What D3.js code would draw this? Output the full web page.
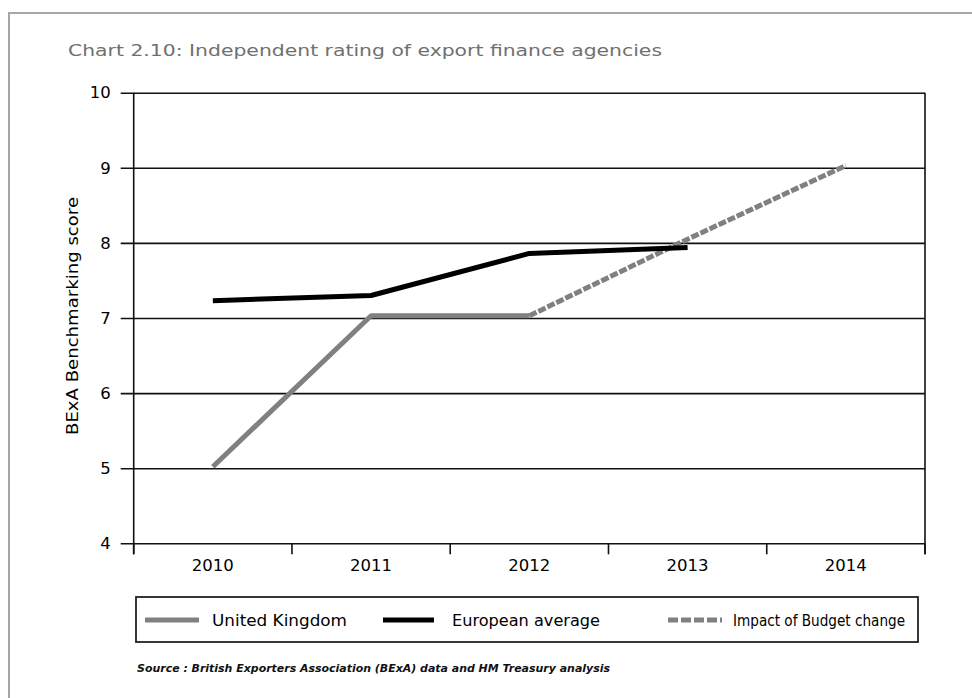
<!DOCTYPE html>
<html>
<head>
<meta charset="utf-8">
<script src="https://cdn.jsdelivr.net/npm/d3@7"></script>
<style>
  html, body { margin: 0; padding: 0; background: #fff; }
  svg { display: block; font-family: "DejaVu Sans", Verdana, sans-serif; }
</style>
</head>
<body>
<svg id="chart" width="972" height="698"></svg>
<script>
// Chart data
const years = ["2010", "2011", "2012", "2013", "2014"];
const unitedKingdom = [5.02, 7.03, 7.03, null, null];
const europeanAverage = [7.23, 7.3, 7.86, 7.94, null];
const budgetImpact = [null, null, 7.03, 8.05, 9.03];
const yTicks = [4, 5, 6, 7, 8, 9, 10];

const titleText = "Chart 2.10: Independent rating of export finance agencies";
const yTitle = "BExA Benchmarking score";
const sourceText = "Source : British Exporters Association (BExA) data and HM Treasury analysis";

const svg = d3.select("#chart");

// Outer frame (open to the right and bottom)
svg.append("path")
  .attr("d", "M9,698 V13 H972")
  .attr("fill", "none")
  .attr("stroke", "#a6a6a6")
  .attr("stroke-width", 2);

svg.append("text")
  .attr("x", 68).attr("y", 56)
  .attr("font-size", 15.5)
  .attr("fill", "#707070")
  .attr("textLength", 594)
  .attr("lengthAdjust", "spacingAndGlyphs")
  .text(titleText);

const plot = { left: 133.7, right: 925, top: 92.7, bottom: 543.3 };

const x = d3.scaleBand().domain(years).range([plot.left, plot.right]).padding(0);
const y = d3.scaleLinear().domain([4, 10]).range([plot.bottom, plot.top]);
const cx = d => x(d) + x.bandwidth() / 2;

// Horizontal gridlines with outward ticks
const yAxis = d3.axisLeft(y)
  .tickValues(yTicks)
  .tickSize(-(plot.right - plot.left))
  .tickSizeOuter(0)
  .tickPadding(10)
  .tickFormat(d3.format("d"));

const gy = svg.append("g")
  .attr("transform", `translate(${plot.left},0)`)
  .call(yAxis);
gy.select(".domain").remove();
gy.selectAll(".tick line")
  .attr("x1", -13)
  .attr("stroke", "#111")
  .attr("stroke-width", 1.6);
gy.selectAll(".tick text")
  .attr("x", -23)
  .attr("font-size", 16.5)
  .attr("fill", "#000")
  .style("font-family", "DejaVu Sans, sans-serif");

// Left and right plot borders
svg.append("line")
  .attr("x1", plot.left).attr("x2", plot.left)
  .attr("y1", plot.top).attr("y2", plot.bottom + 11)
  .attr("stroke", "#111").attr("stroke-width", 1.6);
svg.append("line")
  .attr("x1", plot.right).attr("x2", plot.right)
  .attr("y1", plot.top).attr("y2", plot.bottom + 11)
  .attr("stroke", "#111").attr("stroke-width", 1.6);

// Category axis with ticks at band edges
const xAxis = d3.axisBottom(x).tickSize(0).tickPadding(16);
const gx = svg.append("g")
  .attr("transform", `translate(0,${plot.bottom})`)
  .call(xAxis);
gx.select(".domain").remove();
gx.selectAll(".tick text")
  .attr("font-size", 16.5)
  .attr("fill", "#000")
  .style("font-family", "DejaVu Sans, sans-serif");
const edges = years.map(d => x(d)).concat([x(years[years.length - 1]) + x.bandwidth()]);
svg.append("g").selectAll("line")
  .data(edges)
  .join("line")
  .attr("x1", d => d).attr("x2", d => d)
  .attr("y1", plot.bottom).attr("y2", plot.bottom + 11)
  .attr("stroke", "#111").attr("stroke-width", 1.6);

// Y axis title
svg.append("text")
  .attr("transform", `translate(78,${(plot.top + plot.bottom) / 2 - 2}) rotate(-90)`)
  .attr("text-anchor", "middle")
  .attr("font-size", 16)
  .attr("fill", "#000")
  .attr("textLength", 238)
  .attr("lengthAdjust", "spacingAndGlyphs")
  .text(yTitle);

// Series lines
const line = d3.line()
  .defined(d => d.v !== null)
  .x(d => cx(d.year))
  .y(d => y(d.v));
const toPts = arr => years.map((year, i) => ({ year, v: arr[i] }));

const series = [
  { name: "Impact of Budget change", values: budgetImpact, color: "#808080", dash: "8,2" },
  { name: "United Kingdom", values: unitedKingdom, color: "#808080", dash: null },
  { name: "European average", values: europeanAverage, color: "#000", dash: null }
];

svg.append("g").selectAll("path")
  .data(series)
  .join("path")
  .attr("d", s => line(toPts(s.values)))
  .attr("fill", "none")
  .attr("stroke", s => s.color)
  .attr("stroke-width", 5)
  .attr("stroke-linejoin", "round")
  .attr("stroke-dasharray", s => s.dash);

// Legend
const legend = svg.append("g");
legend.append("rect")
  .attr("x", 136).attr("y", 597)
  .attr("width", 782).attr("height", 45)
  .attr("fill", "none")
  .attr("stroke", "#222")
  .attr("stroke-width", 1.8);

const legendItems = [
  { name: "United Kingdom", color: "#808080", dash: null, x0: 145, x1: 199, tx: 212, tw: 135 },
  { name: "European average", color: "#000", dash: null, x0: 383, x1: 434, tx: 452, tw: 148 },
  { name: "Impact of Budget change", color: "#808080", dash: "10,3", x0: 668, x1: 722, tx: 733, tw: 172 }
];
const li = legend.selectAll("g.item").data(legendItems).join("g").attr("class", "item");
li.append("line")
  .attr("x1", d => d.x0).attr("x2", d => d.x1)
  .attr("y1", 620).attr("y2", 620)
  .attr("stroke", d => d.color)
  .attr("stroke-width", 5)
  .attr("stroke-dasharray", d => d.dash);
li.append("text")
  .attr("x", d => d.tx).attr("y", 626)
  .attr("font-size", 16)
  .attr("fill", "#000")
  .attr("textLength", d => d.tw)
  .attr("lengthAdjust", "spacingAndGlyphs")
  .text(d => d.name);

// Source note
svg.append("text")
  .attr("x", 137).attr("y", 672)
  .attr("font-size", 11)
  .attr("font-style", "italic")
  .attr("font-weight", "bold")
  .attr("fill", "#111")
  .attr("textLength", 473)
  .attr("lengthAdjust", "spacingAndGlyphs")
  .text(sourceText);
</script>
</body>
</html>
